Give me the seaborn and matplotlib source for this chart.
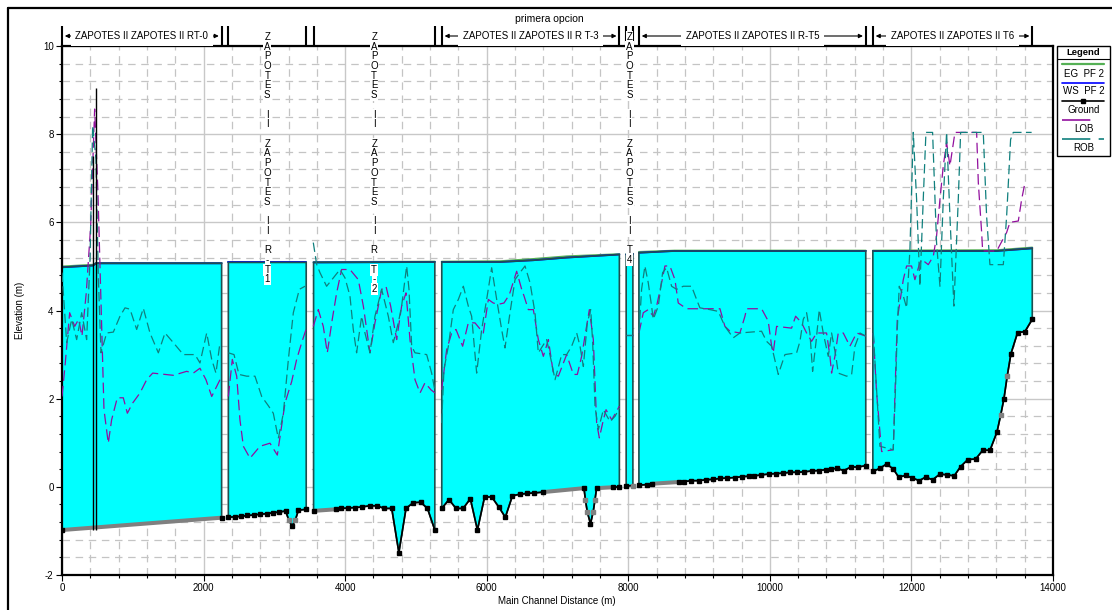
import matplotlib
matplotlib.use("Agg")
import numpy as np
import matplotlib.pyplot as plt
import matplotlib.transforms as mtransforms
from matplotlib.lines import Line2D
from matplotlib.patches import Rectangle
import seaborn as sns

# ---------------------------------------------------------------- data ----
reach_labels = ["ZAPOTES II ZAPOTES II RT-0", "ZAPOTES II ZAPOTES II R-T1",
                "ZAPOTES II ZAPOTES II R T-2", "ZAPOTES II ZAPOTES II R T-3",
                "ZAPOTES II ZAPOTES II T4", "ZAPOTES II ZAPOTES II R-T5",
                "ZAPOTES II ZAPOTES II T6"]
reach_vertical = [False, True, True, False, True, False, False]

# channel invert: station (m), elevation (m), marker kind (b = surveyed, g = interpolated)
gx_rt0 = [0, 2255]
gz_rt0 = [-0.98, -0.70]
gk_rt0 = "bb"
gx_rt1 = [2350, 2440, 2530, 2620, 2710, 2800, 2890, 2980, 3070, 3160, 3205, 3250, 3295, 3340, 3450]
gz_rt1 = [-0.69, -0.68, -0.67, -0.65, -0.64, -0.62, -0.61, -0.59, -0.57, -0.55, -0.76, -0.89, -0.76, -0.53, -0.51]
gk_rt1 = "bbbbbbbbbbgbgbb"
gx_rt2 = [3554, 3867, 3942, 4043, 4144, 4245, 4346, 4457, 4547, 4658, 4759, 4860, 4961, 5067, 5163, 5267]
gz_rt2 = [-0.545, -0.51, -0.49, -0.48, -0.47, -0.455, -0.43, -0.43, -0.49, -0.49, -1.49, -0.49, -0.36, -0.35, -0.49, -0.98]
gk_rt2 = "bbbbbbbbbbbbbbbb"
gx_rt3 = [5365, 5466, 5567, 5667, 5769, 5869, 5970, 6071, 6172, 6263, 6364, 6464, 6566, 6666, 6793,
          7374, 7395, 7420, 7466, 7505, 7530, 7552, 7779, 7874]
gz_rt3 = [-0.49, -0.29, -0.49, -0.49, -0.27, -0.98, -0.23, -0.23, -0.46, -0.69, -0.20, -0.17, -0.15, -0.14, -0.12,
          -0.03, -0.30, -0.56, -0.84, -0.56, -0.29, -0.03, -0.01, 0.00]
gk_rt3 = "bbbbbbbbbbbbbbbbggbggbbb"
gx_t4 = [7970, 8065]
gz_t4 = [0.02, 0.03]
gk_t4 = "bg"
gx_rt5 = [8150, 8261, 8337, 8716, 8792, 8893, 8994, 9096, 9197, 9298, 9400, 9501, 9602, 9703, 9779, 9881,
          9982, 10083, 10184, 10286, 10387, 10488, 10589, 10690, 10792, 10868, 10944, 11045, 11146, 11248, 11355]
gz_rt5 = [0.04, 0.05, 0.07, 0.11, 0.12, 0.14, 0.14, 0.16, 0.17, 0.19, 0.20, 0.21, 0.23, 0.24, 0.25, 0.27,
          0.29, 0.30, 0.31, 0.33, 0.33, 0.34, 0.36, 0.37, 0.39, 0.40, 0.42, 0.37, 0.45, 0.45, 0.48]
gk_rt5 = "b" * 31
gx_t6 = [11455, 11555, 11650, 11745, 11820, 11920, 12015, 12110, 12200, 12300, 12403, 12505, 12605, 12695,
         12798, 12907, 13008, 13110, 13208, 13260, 13307, 13354, 13406, 13500, 13603, 13707]
gz_t6 = [0.35, 0.42, 0.52, 0.40, 0.22, 0.26, 0.20, 0.14, 0.22, 0.16, 0.29, 0.27, 0.25, 0.46,
         0.62, 0.63, 0.83, 0.83, 1.24, 1.62, 2.00, 2.52, 3.02, 3.50, 3.52, 3.80]
gk_t6 = "bbbbbbbbbbbbbbbbbbbgbgbbbb"

# runs of interpolated sections drawn as a thick grey band
interp_spans = [(0, 2255), (3554, 3867), (6793, 7374), (7552, 7779), (8337, 8716)]

# structure at the head of RT-0
struct_x = [440, 475]
struct_bottom = [-0.97, -0.97]
struct_top = [7.5, 9.04]

# water surface and energy grade, profile PF 2
wx_rt0, ws_rt0, eg_rt0 = [0, 440, 480, 2255], [4.98, 5.02, 5.07, 5.07], [5.00, 5.04, 5.08, 5.08]
wx_rt1, ws_rt1, eg_rt1 = [2350, 3450], [5.09, 5.09], [5.10, 5.10]
wx_rt2, ws_rt2, eg_rt2 = [3554, 5267], [5.09, 5.10], [5.10, 5.11]
wx_rt3, ws_rt3, eg_rt3 = [5365, 6187, 6658, 7129, 7874], [5.10, 5.10, 5.14, 5.20, 5.27], [5.11, 5.12, 5.17, 5.23, 5.28]
wx_t4, ws_t4, eg_t4 = [7970, 8065], [5.27, 5.28], [5.28, 5.29]
wx_rt5, ws_rt5, eg_rt5 = [8150, 8650, 11355], [5.31, 5.35, 5.35], [5.33, 5.36, 5.36]
wx_t6, ws_t6, eg_t6 = [11455, 13204, 13707], [5.35, 5.35, 5.41], [5.36, 5.37, 5.43]

# left and right overbank elevations
lx_rt0 = [0, 42, 108, 179, 235, 282, 343, 405, 461, 508, 593, 654, 701, 781, 866, 923, 998, 1102, 1196, 1281,
          1455, 1573, 1761, 1855, 1949, 2034, 2115, 2232]
lz_rt0 = [2.05, 2.73, 3.95, 3.64, 3.80, 3.42, 4.40, 5.92, 8.57, 6.67, 1.75, 0.99, 1.52, 2.02, 2.02, 1.67, 1.90,
          2.13, 2.43, 2.58, 2.55, 2.53, 2.62, 2.58, 2.69, 2.43, 2.05, 2.43]
rx_rt0 = [0, 66, 137, 207, 278, 348, 396, 433, 480, 513, 551, 631, 725, 819, 890, 961, 1055, 1149, 1243, 1361,
          1455, 1573, 1714, 1879, 1949, 2044, 2115, 2175, 2232]
rz_rt0 = [4.86, 3.27, 3.80, 3.34, 3.95, 3.34, 5.16, 8.19, 7.43, 4.78, 3.04, 3.49, 3.51, 3.87, 4.06, 4.03, 3.57,
          4.05, 3.49, 3.04, 3.49, 3.27, 3.00, 3.00, 2.81, 3.49, 2.89, 2.58, 3.27]

lx_rt1 = [2350, 2406, 2468, 2514, 2562, 2656, 2797, 2938, 3042, 3150, 3245, 3315, 3386, 3447]
lz_rt1 = [2.05, 2.89, 2.51, 1.52, 0.92, 0.65, 0.92, 0.99, 0.72, 1.90, 2.39, 2.89, 3.27, 3.57]
rx_rt1 = [2350, 2430, 2500, 2609, 2726, 2821, 2915, 2985, 3056, 3127, 3198, 3268, 3353, 3433]
rz_rt1 = [3.04, 3.00, 2.55, 2.51, 2.51, 2.05, 1.84, 1.67, 1.10, 1.67, 2.89, 3.95, 4.48, 4.55]

lx_rt2 = [3550, 3621, 3691, 3748, 3818, 3880, 3950, 4068, 4186, 4257, 4351, 4421, 4516, 4577, 4643, 4728,
          4798, 4860, 4916, 4987, 5058, 5128, 5213, 5269]
lz_rt2 = [3.64, 4.02, 3.64, 3.04, 3.80, 4.40, 4.93, 4.93, 4.70, 4.10, 3.04, 3.72, 4.48, 4.55, 4.10, 3.34,
          4.10, 4.40, 3.34, 2.43, 2.13, 2.36, 2.20, 2.13]
rx_rt2 = [3550, 3597, 3644, 3738, 3833, 3927, 3998, 4068, 4115, 4162, 4233, 4280, 4351, 4421, 4516, 4610,
          4680, 4751, 4798, 4869, 4902, 4940, 4987, 5152, 5222, 5269]
rz_rt2 = [5.54, 5.05, 4.86, 4.55, 4.74, 4.93, 4.74, 4.33, 3.57, 3.04, 3.87, 3.49, 3.04, 3.87, 4.48, 3.87,
          3.27, 3.72, 4.10, 5.01, 4.48, 3.19, 3.04, 3.00, 2.58, 2.17]

lx_rt3 = [5363, 5434, 5505, 5566, 5660, 5740, 5834, 5952, 6023, 6093, 6164, 6244, 6320, 6423, 6494, 6527,
          6588, 6659, 6729, 6800, 6871, 6941, 7012, 7129, 7224, 7280, 7341, 7388, 7450, 7506, 7553, 7591,
          7648, 7686, 7766, 7874]
lz_rt3 = [2.20, 3.11, 3.49, 3.57, 3.19, 3.72, 3.72, 3.49, 4.25, 4.17, 4.14, 4.17, 4.36, 4.89, 4.48, 4.33,
          4.02, 4.02, 3.34, 2.96, 3.34, 2.58, 2.51, 3.00, 2.55, 2.55, 2.96, 3.42, 4.02, 3.34, 1.45, 1.11,
          1.52, 1.75, 1.52, 1.83]
rx_rt3 = [5363, 5396, 5458, 5528, 5599, 5670, 5740, 5787, 5858, 5929, 5999, 6070, 6141, 6211, 6258, 6329,
          6400, 6470, 6541, 6612, 6682, 6729, 6847, 6918, 6965, 7059, 7129, 7200, 7271, 7318, 7365, 7421,
          7469, 7497, 7530, 7577, 7648, 7742, 7813, 7874]
rz_rt3 = [1.45, 2.66, 3.19, 4.02, 4.25, 4.55, 4.10, 3.87, 2.58, 3.57, 4.25, 4.97, 4.25, 3.57, 3.15, 3.95,
          4.70, 4.86, 5.01, 4.63, 3.95, 3.04, 3.34, 2.81, 2.43, 3.00, 3.00, 3.19, 3.49, 3.19, 2.73, 3.72,
          4.02, 3.27, 1.83, 1.30, 1.75, 1.48, 1.60, 1.79]

lx_t4, lz_t4 = [7970, 8065], [3.45, 3.45]
rx_t4, rz_t4 = [7970, 8065], [3.45, 3.45]

lx_rt5 = [8151, 8212, 8282, 8353, 8400, 8471, 8518, 8588, 8659, 8706, 8824, 9295, 9365, 9436, 9577, 9648,
          9671, 9883, 9977, 10025, 10048, 10095, 10307, 10364, 10449, 10519, 10590, 10660, 10801, 10849,
          10872, 10919, 10966, 11037, 11131, 11226, 11355]
lz_rt5 = [3.49, 3.95, 4.02, 3.87, 4.10, 4.63, 5.01, 5.01, 4.70, 4.17, 4.04, 4.04, 3.64, 3.53, 3.49, 3.87,
          4.04, 4.04, 3.76, 3.19, 3.04, 3.64, 3.60, 3.87, 3.72, 3.49, 3.30, 3.49, 3.49, 2.96,
          2.58, 2.96, 3.49, 3.49, 3.19, 3.49, 3.42]
rx_rt5 = [8151, 8188, 8235, 8282, 8329, 8353, 8424, 8485, 8541, 8612, 8683, 8777, 8894, 8965, 9012, 9153,
          9271, 9365, 9483, 9577, 9883, 9954, 10025, 10119, 10213, 10378, 10425, 10472, 10519, 10566, 10604,
          10651, 10698, 10754, 10825, 10872, 10933, 10966, 11084, 11155, 11202, 11273, 11355]
rz_rt5 = [3.49, 4.48, 5.01, 4.63, 4.10, 3.80, 4.10, 4.86, 4.97, 4.55, 4.48, 4.55, 4.55, 4.25, 4.06, 4.02,
          3.98, 3.64, 3.38, 3.49, 3.53, 3.30, 3.19, 2.55, 3.00, 3.04, 3.30, 3.80, 3.95, 3.49, 2.62,
          3.27, 4.02, 3.49, 2.96, 3.49, 2.96, 2.58, 2.51, 2.55, 3.19, 3.49, 3.42]

lx_t6 = [11461, 11508, 11579, 11743, 11800, 11885, 11932, 12002, 12049, 12111, 12144, 12238, 12309, 12355,
         12403, 12450, 12497, 12544, 12615, 12685, 12921, 12945, 12992, 13006, 13133, 13204, 13345, 13392,
         13510, 13557, 13604]
lz_t6 = [3.49, 2.13, 0.80, 0.84, 3.80, 4.70, 5.01, 5.01, 4.70, 5.04, 5.16, 5.04, 5.23, 5.69,
         6.52, 7.28, 7.81, 7.28, 8.04, 8.04, 8.04, 6.90, 5.77, 5.35, 5.35, 5.35, 5.77, 6.00,
         6.03, 6.52, 6.90]
rx_t6 = [11461, 11508, 11555, 11743, 11776, 11800, 11828, 11885, 11932, 11979, 12026, 12073, 12120, 12167,
         12205, 12299, 12355, 12403, 12450, 12497, 12544, 12600, 12662, 12695, 13015, 13062, 13109, 13298,
         13345, 13401, 13439, 13698]
rz_t6 = [3.49, 2.20, 0.92, 0.84, 2.28, 3.57, 4.55, 4.33, 4.06, 5.39, 8.04, 6.52, 4.55, 6.52,
         8.04, 8.04, 5.54, 4.55, 6.52, 8.04, 6.14, 4.10, 6.52, 8.04, 8.04, 6.14, 5.04, 5.04,
         6.14, 7.88, 8.04, 8.04]

x_ticks = [0, 2000, 4000, 6000, 8000, 10000, 12000, 14000]
y_ticks = [-2, 0, 2, 4, 6, 8, 10]
legend_labels = ["EG  PF 2", "WS  PF 2", "Ground", "LOB", "ROB"]

ground_x = [gx_rt0, gx_rt1, gx_rt2, gx_rt3, gx_t4, gx_rt5, gx_t6]
ground_z = [gz_rt0, gz_rt1, gz_rt2, gz_rt3, gz_t4, gz_rt5, gz_t6]
ground_k = [gk_rt0, gk_rt1, gk_rt2, gk_rt3, gk_t4, gk_rt5, gk_t6]
ws_x = [wx_rt0, wx_rt1, wx_rt2, wx_rt3, wx_t4, wx_rt5, wx_t6]
ws_z = [ws_rt0, ws_rt1, ws_rt2, ws_rt3, ws_t4, ws_rt5, ws_t6]
eg_z = [eg_rt0, eg_rt1, eg_rt2, eg_rt3, eg_t4, eg_rt5, eg_t6]
lob_x = [lx_rt0, lx_rt1, lx_rt2, lx_rt3, lx_t4, lx_rt5, lx_t6]
lob_z = [lz_rt0, lz_rt1, lz_rt2, lz_rt3, lz_t4, lz_rt5, lz_t6]
rob_x = [rx_rt0, rx_rt1, rx_rt2, rx_rt3, rx_t4, rx_rt5, rx_t6]
rob_z = [rz_rt0, rz_rt1, rz_rt2, rz_rt3, rz_t4, rz_rt5, rz_t6]

# --------------------------------------------------------------- style ----
W, H, DPI = 1112, 610, 100
C_WATER = "#00ffff"
C_EDGE = "#1f4f4f"
C_WS = "#0000ff"
C_EG = "#55b055"
C_LOB = "#92109e"
C_ROB = "#10807e"
C_GREY = "#808080"
LOB_DASH = (0, (8.5, 4.0))
ROB_DASH = (0, (7.5, 3.5))
FS = 7

sns.set_theme(style="white")
plt.rcParams["font.family"] = ["Liberation Sans", "DejaVu Sans"]
plt.rcParams["axes.unicode_minus"] = False
for key in ("text.color", "axes.labelcolor", "xtick.color", "ytick.color", "axes.edgecolor"):
    plt.rcParams[key] = "black"


def fx(px):
    return px / W


def fy(py):
    return 1 - py / H


fig = plt.figure(figsize=(W / DPI, H / DPI), dpi=DPI)
fig.patch.set_facecolor("white")
ax = fig.add_axes([fx(62), fy(575), fx(1053) - fx(62), fy(46) - fy(575)])
ax.set_facecolor("white")

line_kw = dict(ax=ax, sort=False, estimator=None, errorbar=None, legend=False)

for i in range(len(reach_labels)):
    gx, gz, gk = ground_x[i], ground_z[i], ground_k[i]
    wx, wz, ez = ws_x[i], ws_z[i], eg_z[i]
    poly_x = list(gx) + list(wx[::-1])
    poly_z = list(gz) + list(wz[::-1])

    # water body between channel invert and water surface
    ax.fill(poly_x, poly_z, facecolor=C_WATER, edgecolor="none", zorder=2)
    sns.lineplot(x=wx, y=ez, color=C_EG, linewidth=1.3, zorder=2.2, **line_kw)
    sns.lineplot(x=wx, y=wz, color=C_WS, linewidth=1.3, zorder=2.3, **line_kw)
    ax.fill(poly_x, poly_z, facecolor="none", edgecolor=C_EDGE, linewidth=1.2, zorder=2.5)

    sns.lineplot(x=lob_x[i], y=lob_z[i], color=C_LOB, linewidth=0.9,
                 linestyle=LOB_DASH, zorder=3, **line_kw)
    sns.lineplot(x=rob_x[i], y=rob_z[i], color=C_ROB, linewidth=0.9,
                 linestyle=ROB_DASH, zorder=3, **line_kw)

    sns.lineplot(x=gx, y=gz, color="black", linewidth=1.2, zorder=5, **line_kw)
    gxa, gza = np.asarray(gx, float), np.asarray(gz, float)
    for a, b in interp_spans:
        sel = (gxa >= a) & (gxa <= b)
        if sel.sum() >= 2:
            ax.plot(gxa[sel], gza[sel], color=C_GREY, linewidth=2.9,
                    solid_capstyle="butt", zorder=6)
    kinds = np.array(list(gk))
    for kind, col in (("b", "black"), ("g", C_GREY)):
        m = kinds == kind
        ax.plot(gxa[m], gza[m], linestyle="none", marker="s", markersize=2.9,
                markerfacecolor=col, markeredgecolor=col, zorder=7)

# structure walls
ax.vlines(struct_x, struct_bottom, struct_top, colors="black", linewidth=1.0, zorder=6)

# ---------------------------------------------------------------- axes ----
ax.set_xlim(0, 14000)
ax.set_ylim(-2, 10)
ax.set_xticks(x_ticks)
ax.set_yticks(y_ticks)
ax.set_xticks(np.arange(0, 14001, 400), minor=True)
ax.set_yticks(np.arange(-2, 10.01, 0.4), minor=True)
ax.set_xticklabels([str(v) for v in x_ticks])
ax.set_yticklabels([str(v) for v in y_ticks])
ax.set_axisbelow(True)
ax.grid(which="major", color="#c8c8c8", linewidth=1.0, linestyle="-")
ax.grid(which="minor", color="#c4c4c4", linewidth=0.9, linestyle=(0, (6, 4.5)))
ax.tick_params(which="both", bottom=True, left=True, top=False, right=False,
               direction="out", color="black", width=0.8)
ax.tick_params(which="major", length=4, labelsize=FS, pad=2)
ax.tick_params(which="minor", length=2.5)
for s in ax.spines.values():
    s.set_visible(True)
    s.set_color("black")
    s.set_linewidth(1.6)
ax.set_xlabel("")
ax.set_ylabel("")

fig.text(fx(20), fy(310), "Elevation (m)", rotation=90, ha="center", va="center", fontsize=FS)
fig.text(fx(557), fy(601), "Main Channel Distance (m)", ha="center", va="center", fontsize=FS)
fig.text(fx(549), fy(19), "primera opcion", ha="center", va="center", fontsize=7.5)

# ------------------------------------------------------- reach header ----
trans = mtransforms.blended_transform_factory(ax.transData, ax.transAxes)
ax_h = 575 - 46


def ax_frac(py):
    return (575 - py) / ax_h


y_head = ax_frac(36)
for i, label in enumerate(reach_labels):
    start, end = ground_x[i][0], ground_x[i][-1]
    mid = 0.5 * (start + end)
    ax.vlines([start, end], 1.0, ax_frac(26), colors="black", linewidth=1.5,
              transform=trans, clip_on=False, zorder=8)
    if reach_vertical[i]:
        for k, ch in enumerate(label):
            if ch == " ":
                continue
            ax.text(mid, ax_frac(37 + 9.7 * k), ch, transform=trans, ha="center", va="center",
                    fontsize=FS, clip_on=False, zorder=9,
                    bbox=dict(facecolor="white", edgecolor="none", pad=0.6))
    else:
        ax.annotate("", xy=(start + 40, y_head), xytext=(end - 40, y_head),
                    xycoords=trans, textcoords=trans, annotation_clip=False,
                    arrowprops=dict(arrowstyle="<|-|>", color="black", lw=0.8,
                                    mutation_scale=6, shrinkA=0, shrinkB=0))
        ax.text(mid, y_head, label, transform=trans, ha="center", va="center",
                fontsize=FS, clip_on=False, zorder=9,
                bbox=dict(facecolor="white", edgecolor="none", pad=3.5))

# ----------------------------------------------------------- legend ----
fig.add_artist(Rectangle((fx(1057), fy(156)), fx(1110) - fx(1057), fy(46) - fy(156),
                         transform=fig.transFigure, fill=False, edgecolor="black", linewidth=1.0))
fig.text(fx(1083.5), fy(52.5), "Legend", ha="center", va="center", fontsize=6.8, fontweight="bold")
fig.add_artist(Line2D([fx(1057), fx(1110)], [fy(59), fy(59)], transform=fig.transFigure,
                      color="black", linewidth=0.8))
sample_y = [64, 83, 101, 120, 139]
text_y = [74, 91, 110, 129, 148]
sample_style = [
    dict(color=C_EG, linewidth=1.6),
    dict(color=C_WS, linewidth=1.2),
    dict(color="black", linewidth=1.2),
    dict(color=C_LOB, linewidth=1.2, linestyle=(0, (17, 10))),
    dict(color=C_ROB, linewidth=1.2, linestyle=(0, (17, 5))),
]
for lab, sy, ty, st in zip(legend_labels, sample_y, text_y, sample_style):
    fig.add_artist(Line2D([fx(1062), fx(1104)], [fy(sy), fy(sy)], transform=fig.transFigure, **st))
    fig.text(fx(1083.5), fy(ty), lab, ha="center", va="center", fontsize=FS)
fig.add_artist(Line2D([fx(1083)], [fy(101)], transform=fig.transFigure, linestyle="none",
                      marker="s", markersize=3, color="black"))

# outer frame
fig.add_artist(Line2D([fx(8), fx(8)], [0, fy(8)], transform=fig.transFigure, color="black", linewidth=1.6))
fig.add_artist(Line2D([fx(8), 1], [fy(8), fy(8)], transform=fig.transFigure, color="black", linewidth=1.6))

fig.savefig("out.png", dpi=DPI, facecolor="white")
